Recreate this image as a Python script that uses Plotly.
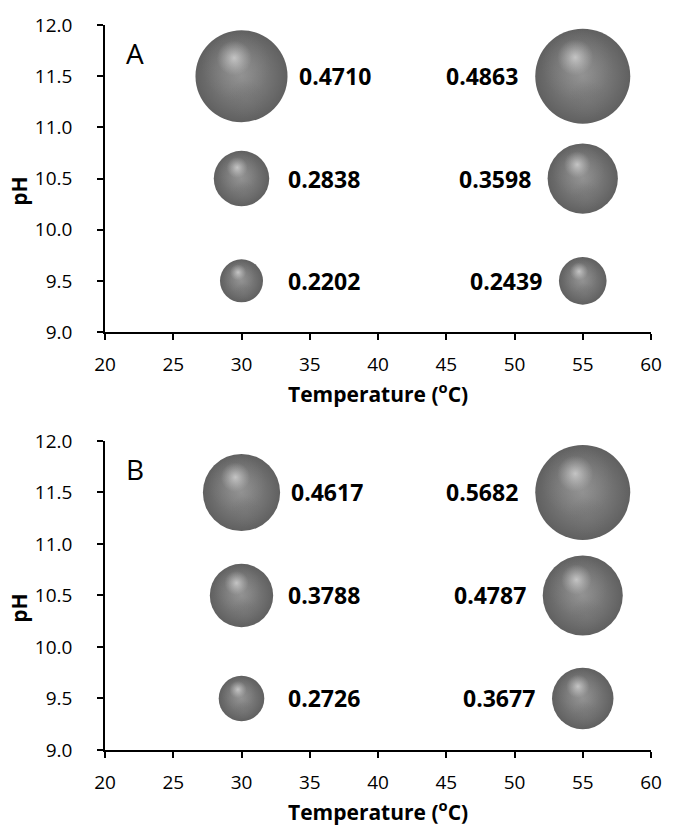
import plotly.graph_objects as go

# ---- data ----
temps = [30, 30, 30, 55, 55, 55]
ph_levels = [11.5, 10.5, 9.5, 11.5, 10.5, 9.5]
values_a = [0.4710, 0.2838, 0.2202, 0.4863, 0.3598, 0.2439]
values_b = [0.4617, 0.3788, 0.2726, 0.5682, 0.4787, 0.3677]
x_ticks = [20, 25, 30, 35, 40, 45, 50, 55, 60]
y_ticks = [9.0, 9.5, 10.0, 10.5, 11.0, 11.5, 12.0]
panel_labels = ["A", "B"]
x_title = "Temperature (<sup>o</sup>C)"
y_title = "pH"

# ---- layout constants ----
W, H = 674, 825
ML, MR, MT, MB = 105, 14, 18, 75
PW = W - ML - MR
PH = H - MT - MB
MAX_D = 95  # px diameter of the largest bubble in each panel
FONT = "Open Sans"

domains = [[(750 - 328) / PH, 1.0], [0.0, (750 - 438) / PH]]

fig = go.Figure()

px_per_x = PW / (x_ticks[-1] - x_ticks[0])

for i, vals in enumerate([values_a, values_b]):
    xa = "x" if i == 0 else "x2"
    ya = "y" if i == 0 else "y2"
    dom = domains[i]
    px_per_y = (dom[1] - dom[0]) * PH / (y_ticks[-1] - y_ticks[0])
    vmax = max(vals)
    diam = [v / vmax * MAX_D for v in vals]

    # base sphere
    fig.add_trace(go.Scatter(
        x=temps, y=ph_levels, xaxis=xa, yaxis=ya, mode="markers",
        marker=dict(size=vals, sizemode="diameter", sizeref=vmax / MAX_D,
                    color="#1c1c1c",
                    gradient=dict(type="radial", color="#5e5e5e"),
                    line=dict(width=0)),
        hoverinfo="skip", showlegend=False))
    # lower soft reflection
    fig.add_trace(go.Scatter(
        x=[t + 0.05 * d / px_per_x for t, d in zip(temps, diam)],
        y=[p - 0.25 * d / px_per_y for p, d in zip(ph_levels, diam)],
        xaxis=xa, yaxis=ya, mode="markers",
        marker=dict(size=[0.4 * v for v in vals], sizemode="diameter", sizeref=vmax / MAX_D,
                    color="rgba(110,110,110,0)",
                    gradient=dict(type="radial", color="rgba(120,120,120,0.7)"),
                    line=dict(width=0)),
        hoverinfo="skip", showlegend=False))
    # broad highlight
    fig.add_trace(go.Scatter(
        x=[t - 0.06 * d / px_per_x for t, d in zip(temps, diam)],
        y=[p + 0.12 * d / px_per_y for p, d in zip(ph_levels, diam)],
        xaxis=xa, yaxis=ya, mode="markers",
        marker=dict(size=[0.75 * v for v in vals], sizemode="diameter", sizeref=vmax / MAX_D,
                    color="rgba(140,140,140,0)",
                    gradient=dict(type="radial", color="rgba(165,165,165,0.55)"),
                    line=dict(width=0)),
        hoverinfo="skip", showlegend=False))
    # bright spot
    fig.add_trace(go.Scatter(
        x=[t - 0.08 * d / px_per_x for t, d in zip(temps, diam)],
        y=[p + 0.2 * d / px_per_y for p, d in zip(ph_levels, diam)],
        xaxis=xa, yaxis=ya, mode="markers",
        marker=dict(size=[0.38 * v for v in vals], sizemode="diameter", sizeref=vmax / MAX_D,
                    color="rgba(200,200,200,0)",
                    gradient=dict(type="radial", color="rgba(228,228,228,0.95)"),
                    line=dict(width=0)),
        hoverinfo="skip", showlegend=False))

    # value labels
    for t, p, v, d in zip(temps, ph_levels, vals, diam):
        if t < 40:
            xanchor, shift = "left", max(44, d / 2 + 9)
        else:
            xanchor, shift = "right", -(d / 2 + 15)
        fig.add_annotation(x=t, y=p, xref=xa, yref=ya, text=f"{v:.4f}",
                           showarrow=False, xanchor=xanchor, xshift=shift,
                           font=dict(family=FONT, size=23, color="black", weight="bold"))

    # panel letter
    fig.add_annotation(xref="paper", yref="paper",
                       x=(135 - ML) / PW, y=dom[1] - 28 / PH,
                       text=panel_labels[i], showarrow=False,
                       xanchor="center", yanchor="middle",
                       font=dict(family=FONT, size=28, color="black"))
    # x title
    fig.add_annotation(xref="paper", yref="paper", x=0.5, y=dom[0] - 61 / PH,
                       text=x_title, showarrow=False, xanchor="center", yanchor="middle",
                       font=dict(family=FONT, size=21, color="black", weight="bold"))
    # y title
    fig.add_annotation(xref="paper", yref="paper", x=(18 - ML) / PW,
                       y=(dom[0] + dom[1]) / 2 - 13 / PH,
                       text=y_title, showarrow=False, textangle=-90,
                       xanchor="center", yanchor="middle",
                       font=dict(family=FONT, size=21, color="black", weight="bold"))

axis_common = dict(showline=True, linecolor="black", linewidth=1.6, ticks="outside",
                   ticklen=6, tickwidth=1.6, tickcolor="black", showgrid=False,
                   zeroline=False, tickfont=dict(family=FONT, size=19, color="black"),
                   fixedrange=True)

fig.update_layout(
    width=W, height=H,
    margin=dict(l=ML, r=MR, t=MT, b=MB),
    paper_bgcolor="white", plot_bgcolor="white",
    xaxis=dict(domain=[0, 1], anchor="y", range=[x_ticks[0], x_ticks[-1]],
               tickvals=x_ticks, ticklabelstandoff=8, **axis_common),
    yaxis=dict(domain=domains[0], anchor="x", range=[y_ticks[0], y_ticks[-1]],
               tickvals=y_ticks, tickformat=".1f", ticklabelstandoff=21, **axis_common),
    xaxis2=dict(domain=[0, 1], anchor="y2", range=[x_ticks[0], x_ticks[-1]],
                tickvals=x_ticks, ticklabelstandoff=8, **axis_common),
    yaxis2=dict(domain=domains[1], anchor="x2", range=[y_ticks[0], y_ticks[-1]],
                tickvals=y_ticks, tickformat=".1f", ticklabelstandoff=21, **axis_common),
)

fig.write_html(
    "out.html",
    config={"displayModeBar": False},
    post_script="document.body.style.margin='0';document.body.style.overflow='hidden';",
)
